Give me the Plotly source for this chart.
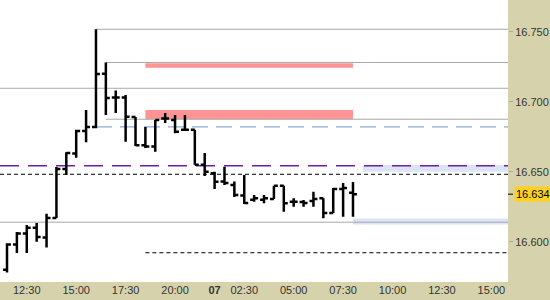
import plotly.graph_objects as go

# ---- data ----
bar_index = list(range(36))
opens  = [16.580, 16.598, 16.606, 16.610, 16.603, 16.617, 16.652, 16.663, 16.679, 16.682,
          16.720, 16.703, 16.703, 16.689, 16.669, 16.668, 16.688, 16.687, 16.680, 16.680,
          16.655, 16.649, 16.643, 16.6405, 16.633, 16.630, 16.630, 16.6305, 16.640, 16.6286,
          16.6284, 16.6291, 16.631, 16.6206, 16.6377, 16.635]
highs  = [16.599, 16.607, 16.612, 16.6134, 16.620, 16.6534, 16.664, 16.680, 16.694, 16.7517,
          16.7279, 16.708, 16.7048, 16.689, 16.682, 16.687, 16.692, 16.6905, 16.6905, 16.680,
          16.6634, 16.650, 16.6536, 16.643, 16.6477, 16.6334, 16.6334, 16.640, 16.640, 16.631,
          16.6298, 16.6358, 16.631, 16.6384, 16.642, 16.6427]
lows   = [16.578, 16.592, 16.592, 16.600, 16.596, 16.617, 16.6477, 16.660, 16.671, 16.681,
          16.6905, 16.692, 16.6715, 16.6684, 16.667, 16.6643, 16.6848, 16.6775, 16.679, 16.655,
          16.647, 16.6377, 16.6405, 16.632, 16.627, 16.6286, 16.6275, 16.6305, 16.6215, 16.625,
          16.625, 16.625, 16.6168, 16.6206, 16.6179, 16.6179]
closes = [16.598, 16.606, 16.610, 16.6034, 16.617, 16.652, 16.6634, 16.679, 16.682, 16.7198,
          16.7027, 16.703, 16.6893, 16.669, 16.668, 16.687, 16.688, 16.6786, 16.680, 16.655,
          16.650, 16.6429, 16.642, 16.6334, 16.6277, 16.631, 16.631, 16.640, 16.6275, 16.6286,
          16.6277, 16.6305, 16.6206, 16.6377, 16.6384, 16.634]

tick_positions = [2, 7, 12, 17, 21, 24, 29, 34, 39, 44, 49]
tick_labels = ["12:30", "15:00", "17:30", "20:00", "<b>07</b>", "02:30", "05:00", "07:30",
               "10:00", "12:30", "15:00"]
price_ticks = [16.600, 16.650, 16.700, 16.750]
last_price = 16.634

# horizontal levels: (price, start bar index or None for full width)
gray_levels = [(16.7517, 9), (16.728, 10), (16.7096, None), (16.6875, 10), (16.614, None)]
blue_level = (16.682, 9)
purple_level = (16.6543, None)
dotted_levels = [(16.6482, None), (16.5922, 14)]
red_zones = [(16.7243, 16.7274, 14, 35), (16.6875, 16.6941, 14, 35)]
blue_zones = [(16.6124, 16.6167, 35), (16.6500, 16.6548, 36)]

X_MIN, X_MAX = -0.708, 50.68
Y_MIN, Y_MAX = 16.5713, 16.7726

fig = go.Figure()

shapes = []
for lo, hi, s in blue_zones:
    shapes.append(dict(type="rect", xref="x", yref="y", x0=s, x1=X_MAX, y0=lo, y1=hi,
                       fillcolor="#DCE3F7", line=dict(width=0), layer="below"))
for lo, hi, s, e in red_zones:
    shapes.append(dict(type="rect", xref="x", yref="y", x0=s, x1=e, y0=lo, y1=hi,
                       fillcolor="#FF9494", line=dict(width=0), layer="below"))
for p, s in gray_levels:
    shapes.append(dict(type="line", xref="x", yref="y", x0=X_MIN if s is None else s, x1=X_MAX,
                       y0=p, y1=p, line=dict(color="#A8A8A8", width=1), layer="below"))
p, s = blue_level
shapes.append(dict(type="line", xref="x", yref="y", x0=s, x1=X_MAX, y0=p, y1=p,
                   line=dict(color="#6F95D0", width=1, dash="16px,8px"), layer="below"))
p, s = purple_level
shapes.append(dict(type="line", xref="x", yref="y", x0=X_MIN, x1=X_MAX, y0=p, y1=p,
                   line=dict(color="#6A1FA0", width=1.3, dash="19px,9px"), layer="below"))
for p, s in dotted_levels:
    shapes.append(dict(type="line", xref="x", yref="y", x0=X_MIN if s is None else s, x1=X_MAX,
                       y0=p, y1=p, line=dict(color="#000000", width=1, dash="4px,3px"),
                       layer="below"))
# small tick for last price label
shapes.append(dict(type="line", xref="paper", yref="y", x0=1.0, x1=1.0 + 5 / 508,
                   y0=last_price, y1=last_price, line=dict(color="#000000", width=1)))

fig.add_trace(go.Ohlc(
    x=bar_index, open=opens, high=highs, low=lows, close=closes,
    increasing=dict(line=dict(color="#000000", width=2.5)),
    decreasing=dict(line=dict(color="#000000", width=2.5)),
    tickwidth=0.4, showlegend=False, hoverinfo="skip"))

fig.add_annotation(x=1, xref="paper", y=last_price, yref="y", xanchor="left", yanchor="middle",
                   xshift=6, text=f"{last_price:.3f}", showarrow=False,
                   font=dict(family="Liberation Sans", size=11, color="#000000"),
                   bgcolor="#FFD21F", borderpad=1)

fig.update_layout(
    width=550, height=300,
    margin=dict(l=0, r=42, t=0, b=18),
    paper_bgcolor="#D6D3AC", plot_bgcolor="#FFFFFF",
    shapes=shapes,
    font=dict(family="Liberation Sans", size=11, color="#333333"),
    xaxis=dict(range=[X_MIN, X_MAX], tickmode="array", tickvals=tick_positions,
               ticktext=tick_labels, showgrid=False, zeroline=False, showline=False,
               rangeslider=dict(visible=False), ticks="", tickfont=dict(size=11)),
    yaxis=dict(range=[Y_MIN, Y_MAX], side="right", tickmode="array", tickvals=price_ticks,
               ticktext=[f"{v:.3f}" for v in price_ticks], showgrid=False, zeroline=False,
               showline=False, ticks="outside", ticklen=4, tickcolor="#A8A8A8",
               tickfont=dict(size=11)),
)

fig.write_html("out.html")
